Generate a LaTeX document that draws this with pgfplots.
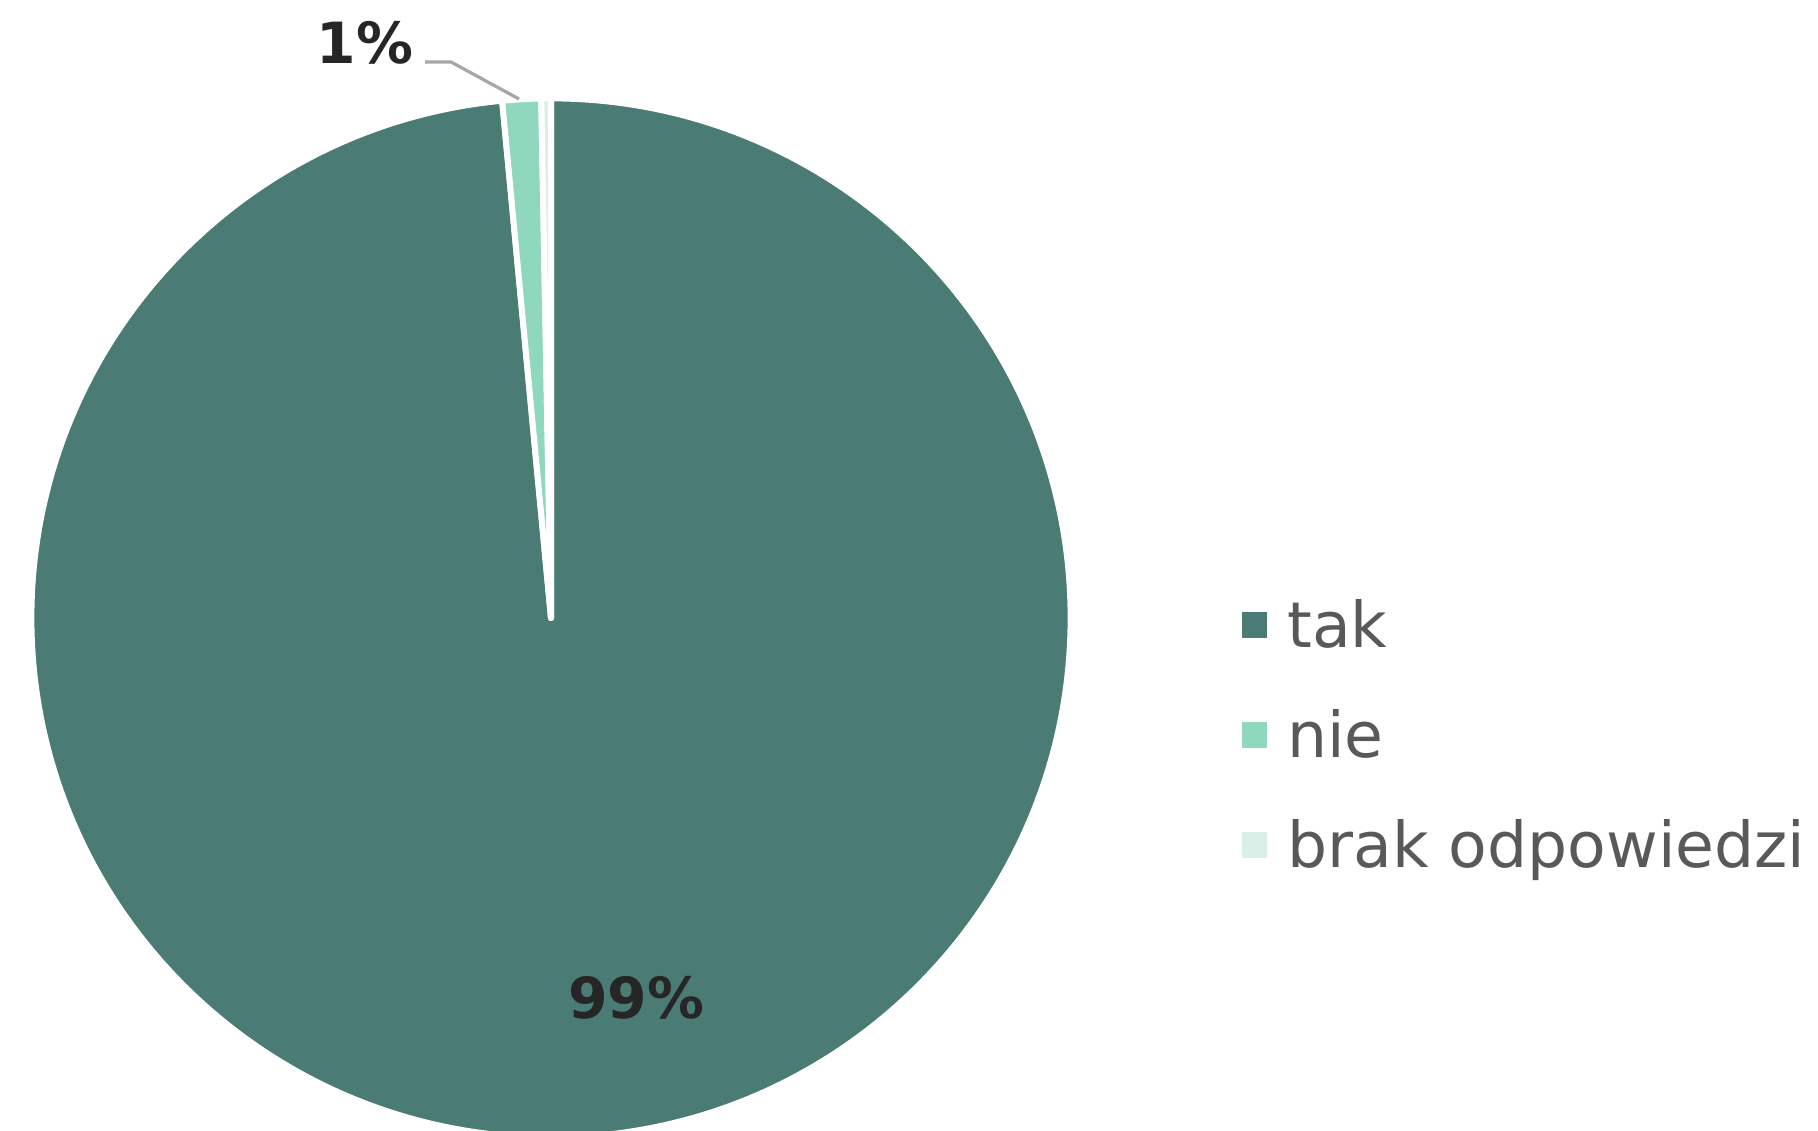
\documentclass[border=0pt]{standalone}
\usepackage{fontspec}
\setmainfont{DejaVu Sans}
\usepackage{pgfplots}
\usepackage{pgfplotstable}
\pgfplotsset{compat=1.18}

\definecolor{takc}{HTML}{4A7B74}
\definecolor{niec}{HTML}{8FD8BE}
\definecolor{brakc}{HTML}{D9EFE8}
\definecolor{legtext}{HTML}{595959}
\definecolor{lbltext}{HTML}{262626}
\definecolor{leader}{HTML}{A6A6A6}

% share of answers (%)
\pgfplotstableread{
odp value
tak 98.5
nie 1.2
brak 0.3
}\piedata

\pgfplotstablegetelem{0}{value}\of\piedata\let\vtak\pgfplotsretval
\pgfplotstablegetelem{1}{value}\of\piedata\let\vnie\pgfplotsretval
\pgfplotstablegetelem{2}{value}\of\piedata\let\vbrak\pgfplotsretval
\pgfmathsetmacro\aA{90-3.6*\vtak}
\pgfmathsetmacro\aB{\aA-3.6*\vnie}
\pgfmathsetmacro\aC{\aB-3.6*\vbrak}

\tikzset{slice/.style={draw=white, line width=1.5pt, line join=round}}
\def\R{129.9pt}

\begin{document}
\begin{tikzpicture}
\begin{axis}[
    scale only axis,
    width=454.5pt, height=282.75pt,
    xmin=0, xmax=1818, ymin=0, ymax=1131,
    hide axis,
    legend cell align=left,
    legend image code/.code={\fill[#1, draw=none] (0pt,-3.2pt) rectangle (6.4pt,3.2pt);},
    legend style={
        draw=none, fill=none, inner sep=0pt, outer sep=0pt,
        at={(axis description cs:0.683,0.4713)}, anchor=north west,
        font=\fontsize{15.8}{18}\selectfont, text=legtext,
        nodes={inner sep=0pt, text height=12.5pt, text depth=1pt},
        row sep=14pt,
        /tikz/every odd column/.append style={column sep=5pt},
    },
]
\fill[takc, slice] (axis cs:551,513) -- ++(90:\R)
    arc[start angle=90, end angle=\aA, radius=\R] -- cycle;
\fill[niec, slice] (axis cs:551,513) -- ++(\aA:\R)
    arc[start angle=\aA, end angle=\aB, radius=\R] -- cycle;
\fill[brakc, slice] (axis cs:551,513) -- ++(\aB:\R)
    arc[start angle=\aB, end angle=\aC, radius=\R] -- cycle;

\addlegendimage{fill=takc}
\addlegendentry{tak}
\addlegendimage{fill=niec}
\addlegendentry{nie}
\addlegendimage{fill=brakc}
\addlegendentry{brak odpowiedzi}

% leader line of the small slice label
\addplot[leader, line width=0.8pt, no marks, forget plot]
    coordinates {(425,1069) (451,1069) (519,1032)};

\node[font=\bfseries\fontsize{14.2}{16}\selectfont, text=lbltext]
    at (axis cs:636,133) {99\%};
\node[font=\bfseries\fontsize{14.2}{16}\selectfont, text=lbltext]
    at (axis cs:365,1088) {1\%};
\end{axis}
\pgfresetboundingbox
\useasboundingbox (current axis.south west) rectangle (current axis.north east);
\end{tikzpicture}
\end{document}
